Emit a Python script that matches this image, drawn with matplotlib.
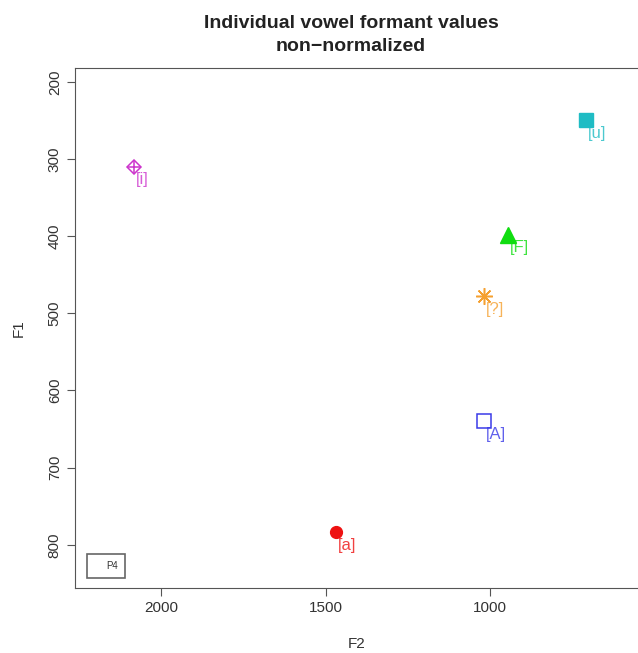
import matplotlib
matplotlib.use("Agg")
import matplotlib.pyplot as plt
from matplotlib.patches import Rectangle

plt.rcParams['font.family'] = ['Liberation Sans', 'DejaVu Sans']

# vowel formant values (Hz)
vowels = ["[i]", "[u]", "[F]", "[?]", "[A]", "[a]"]
f2 = [2082, 708, 945, 1018, 1018, 1467]
f1 = [310, 250, 398, 478, 640, 784]
colors = ["#cc33cc", "#1fbcc4", "#10dd10", "#f5a030", "#3a3ae8", "#ee1111"]

fig = plt.figure(figsize=(6.38, 6.53), dpi=100)
ax = fig.add_axes([0.1176, 0.0995, 0.8824, 0.7965])

# marker styles roughly like R pch 9, 15, 17, 8, 0, 16
for i, v in enumerate(vowels):
    c = colors[i]
    if i == 0:
        ax.plot(f2[i], f1[i], marker='D', ms=6.8, mfc='none', mec=c, mew=1.1)
        ax.plot(f2[i], f1[i], marker='+', ms=9.6, mec=c, mew=1.1)
    elif i == 1:
        ax.plot(f2[i], f1[i], marker='s', ms=9.5, color=c)
    elif i == 2:
        ax.plot(f2[i], f1[i], marker='^', ms=11, color=c)
    elif i == 3:
        ax.plot(f2[i], f1[i], marker=(8, 2, 0), ms=12, mec=c, mew=1.1)
    elif i == 4:
        ax.plot(f2[i], f1[i], marker='s', ms=9.5, mfc='none', mec=c, mew=1.1)
    else:
        ax.plot(f2[i], f1[i], marker='o', ms=8.5, color=c)
    ax.annotate(v, (f2[i], f1[i]), xytext=(1, -4), textcoords='offset points',
                ha='left', va='top', color=c, alpha=0.8, fontsize=12)

ax.set_xlim(2262, 550)
ax.set_ylim(856, 182)
ax.set_xticks([2000, 1500, 1000])
ax.set_yticks([200, 300, 400, 500, 600, 700, 800])
for lab in ax.get_yticklabels():
    lab.set_rotation(90)
    lab.set_va('center')
ax.tick_params(labelsize=11, length=6, color='#555555', labelcolor='#333333')
for s in ['left', 'bottom', 'top']:
    ax.spines[s].set_color('#555555')
ax.spines['right'].set_visible(False)

ax.set_xlabel("F2", fontsize=11, color='#333333', labelpad=16)
ax.set_ylabel("F1", fontsize=11, color='#333333', labelpad=16)
ax.set_title("Individual vowel formant values\nnon\u2212normalized",
             fontsize=14, fontweight='bold', pad=12, color='#222222',
             linespacing=1.45, x=0.49)

# small legend box
ax.add_patch(Rectangle((0.022, 0.02), 0.066, 0.045, transform=ax.transAxes,
                       fill=False, ec='#666666', lw=1.2))
ax.text(0.066, 0.0425, "P4", transform=ax.transAxes, fontsize=7,
        ha='center', va='center', color='#333333')

fig.savefig("out.png", dpi=100)
